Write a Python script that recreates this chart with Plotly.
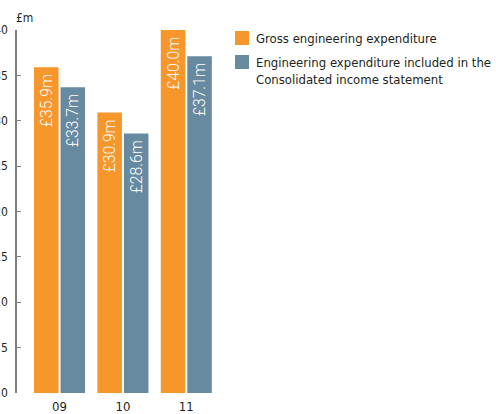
import plotly.graph_objects as go

years = ["09", "10", "11"]
gross = [35.9, 30.9, 40.0]
income_statement = [33.7, 28.6, 37.1]
series_names = [
    "Gross engineering expenditure",
    "Engineering expenditure included in the<br>Consolidated income statement",
]
y_ticks = [0, 5, 10, 15, 20, 25, 30, 35, 40]

ORANGE = "#F7962A"
BLUE = "#688AA1"
TEXT = "#231F20"
LABEL_FONT = "DejaVu Sans Condensed, Roboto, sans-serif"

x_pos = list(range(len(years)))


def money(vals):
    # trailing no-break spaces keep the value clear of the bar's top edge
    return ["£{:.1f}m\u00a0".format(v) for v in vals]


fig = go.Figure()
for vals, color, name in [(gross, ORANGE, series_names[0]),
                          (income_statement, BLUE, series_names[1])]:
    fig.add_trace(go.Bar(
        x=x_pos, y=vals, name=name,
        marker=dict(color=color, line=dict(width=0)),
        text=money(vals),
        textposition="inside",
        insidetextanchor="end",
        textangle=-90,
        textfont=dict(family="Roboto", size=17, color="white", weight=300),
        cliponaxis=False,
    ))

fig.update_layout(
    width=496, height=414,
    margin=dict(l=17, r=278, t=30, b=21),
    plot_bgcolor="white", paper_bgcolor="white",
    barmode="group", bargap=0.163, bargroupgap=0.075,
    showlegend=False,
    uniformtext=dict(minsize=8, mode="show"),
)
fig.update_xaxes(
    range=[-0.671, 2.5],
    tickmode="array", tickvals=x_pos, ticktext=years,
    showline=False, showgrid=False, zeroline=False, ticks="",
    tickfont=dict(family=LABEL_FONT, size=13, color=TEXT),
    ticklabelstandoff=4,
    automargin=False,
)
fig.update_yaxes(
    range=[0, 40],
    tickmode="array", tickvals=y_ticks,
    showline=True, linecolor="#7F7F7F", linewidth=1.5,
    ticks="inside", ticklen=4, tickcolor="#7F7F7F", tickwidth=1,
    showgrid=False, zeroline=False,
    tickfont=dict(family=LABEL_FONT, size=12, color=TEXT),
    ticklabelstandoff=5,
    automargin=False,
)

# unit label above the value axis
fig.add_annotation(
    xref="paper", yref="paper", x=0, y=1, xshift=-3, yshift=12,
    text="£m", showarrow=False, xanchor="left", yanchor="middle",
    font=dict(family=LABEL_FONT, size=12, color=TEXT),
)

# key to the two series, to the right of the plot
key_colors = [ORANGE, BLUE]
key_tops = [31, 55]
for name, color, top in zip(series_names, key_colors, key_tops):
    fig.add_shape(
        type="rect", xref="paper", yref="paper",
        x0=(235 - 17) / 201, x1=(249 - 17) / 201,
        y0=(414 - 21 - (top + 14)) / 363, y1=(414 - 21 - top) / 363,
        fillcolor=color, line=dict(width=0),
    )
    fig.add_annotation(
        xref="paper", yref="paper",
        x=(254 - 17) / 201, y=(414 - 21 - (top - 2)) / 363,
        text=name, showarrow=False, xanchor="left", yanchor="top", align="left",
        font=dict(family=LABEL_FONT, size=13, color=TEXT),
    )

fig.write_html("out.html")
